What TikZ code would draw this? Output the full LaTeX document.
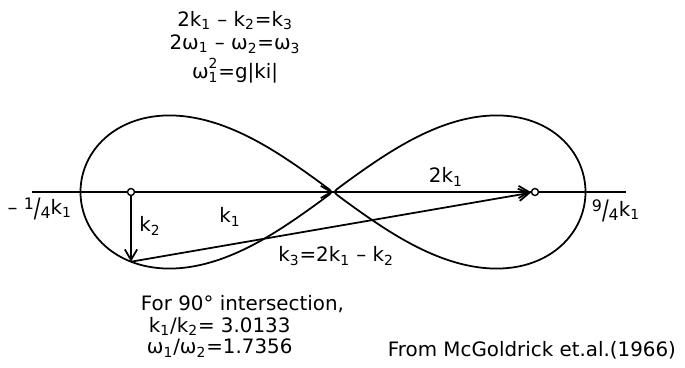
\documentclass[tikz,border=0pt]{standalone}
\usepackage{fontspec}
\setmainfont{DejaVu Sans}
\usepackage{tikz}
\usetikzlibrary{arrows.meta, calc}
\newcommand{\kv}[1]{k\textsubscript{#1}}
\newcommand{\wv}[1]{ω\textsubscript{#1}}
\newcommand{\slfrac}[2]{\raisebox{0.45ex}{\small#1}\raisebox{-0.3ex}{\scalebox{1}[1.35]{/}}\raisebox{-0.4ex}{\small#2}}

\begin{document}
\begin{tikzpicture}[x=4.04cm, y=4.2cm, line width=1pt,
    lbl/.style={font=\fontsize{11.3}{12.3}\selectfont, inner sep=0pt},
    vec/.style={-{Straight Barb[length=6pt, width=7pt]}},
    dot/.style={draw, circle, fill=white, inner sep=0pt, minimum size=0.14cm, line width=0.8pt},
    declare function={aa(\t)=1-0.5*cos(\t);
      kx(\t)=1+(aa(\t)-1)*(aa(\t)^2+(2-aa(\t))^2);
      ky(\t)=sqrt(max(0,aa(\t)^4-kx(\t)^2));}]
  \useasboundingbox (-0.6485,-0.8381) rectangle (2.7426,0.9143);

  % axis and resonance curve
  \coordinate (L) at (-0.49,0);
  \coordinate (R) at (2.45,0);
  \coordinate (K1) at (1,0);
  \coordinate (K2) at (0,-0.332);
  \draw (L) -- (R);
  \draw plot[variable=\t, domain=0:180, samples=240] ({kx(\t)},{ky(\t)})
        -- plot[variable=\t, domain=180:0, samples=240] ({kx(\t)},{-ky(\t)}) -- cycle;

  \node[dot] (O) at (0,0) {};
  \node[dot] (P) at (2,0) {};

  \draw[vec] (O) -- (K1);
  \draw[vec] (K1) -- (P);
  \draw[vec] (O) -- (K2);
  \draw[vec] (K2) -- (P);

  \node[lbl] (lk1) at (0.490,-0.119) {\kv{1}};
  \node[lbl] (lk2) at (0.094,-0.162) {\kv{2}};
  \node[lbl] (l2k1) at (1.559,0.071) {2\kv{1}};
  \node[lbl] (lk3) at (1.015,-0.305) {\kv{3}=2\kv{1} – \kv{2}};
  \node[lbl] (lmin) at (-0.452,-0.080) {– \slfrac{1}{4}\kv{1}};
  \node[lbl] (lmax) at (2.401,-0.090) {\slfrac{9}{4}\kv{1}};

  \node[lbl, align=center] (eqs) at (0.515,0.690)
    {2\kv{1} – \kv{2}=\kv{3}\\[1pt] 2\wv{1} – \wv{2}=\wv{3}\\[2pt] ω\rlap{\raisebox{0.25ex}{\textsuperscript{2}}}\textsubscript{1}=g|ki|};
  \node[lbl, align=left, anchor=west] (cond) at (0.045,-0.640)
    {For 90° intersection,\\ \hspace{0.4em}\kv{1}/\kv{2}= 3.0133\\ \hspace{0.3em}\wv{1}/\wv{2}=1.7356};
  \node[lbl] (src) at (1.985,-0.752) {From McGoldrick et.al.(1966)};
\end{tikzpicture}
\end{document}
